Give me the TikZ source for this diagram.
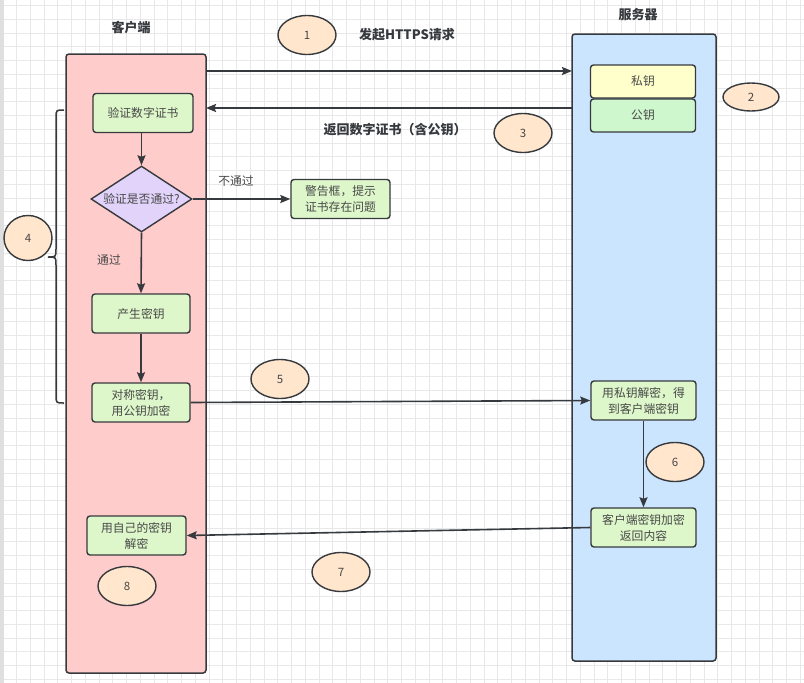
\documentclass[tikz,border=0pt]{standalone}
\usepackage{fontspec}
\setmainfont{Noto Sans CJK SC}
\usetikzlibrary{arrows.meta,shapes.geometric}
\definecolor{strokec}{HTML}{36393D}
\definecolor{pinkc}{HTML}{FFCCCC}
\definecolor{bluec}{HTML}{CCE5FF}
\definecolor{boxg}{HTML}{DDF7CA}
\definecolor{yellc}{HTML}{FFFFCC}
\definecolor{pubg}{HTML}{CFF7CD}
\definecolor{lavc}{HTML}{E1D3FA}
\definecolor{peach}{HTML}{FFE6CC}
\definecolor{gridc}{HTML}{E8E8E8}
\definecolor{txtc}{HTML}{484848}
\tikzset{
  lane/.style={draw=strokec,line width=1.5pt,rounded corners=3pt},
  stepbox/.style={draw=strokec,line width=1.4pt,rounded corners=3pt,fill=boxg,
    minimum height=39pt,inner sep=2pt,align=center,text=txtc,font=\fontsize{11.8pt}{16pt}\selectfont},
  keybox/.style={draw=strokec,line width=1.4pt,rounded corners=3pt,
    minimum width=105pt,minimum height=33pt,inner sep=0pt,text=txtc,font=\fontsize{11.8pt}{14pt}\selectfont},
  num/.style={ellipse,draw=strokec,line width=1.4pt,fill=peach,minimum width=58pt,minimum height=39pt,
    inner sep=0pt,text=txtc,font=\fontsize{11.5pt}{13pt}\selectfont},
  title/.style={font=\fontsize{13pt}{15pt}\selectfont\bfseries,text=strokec},
  lbl/.style={font=\fontsize{11.8pt}{13pt}\selectfont,text=txtc},
  conn/.style={draw=strokec,line width=1.6pt,-{Stealth[length=10pt,width=8pt,inset=1.5pt]}},
}
\begin{document}
\begin{tikzpicture}[x=1pt,y=-1pt]
\useasboundingbox (0,0) rectangle (804,683);
\fill[white] (0,0) rectangle (804,683);
% grid
\foreach \i in {0,...,58} {\draw[gridc,line width=0.7pt] ({2.7+13.75*\i},0) -- ({2.7+13.75*\i},683);}
\foreach \j in {0,...,49} {\draw[gridc,line width=0.7pt] (0,{5.45+13.75*\j}) -- (804,{5.45+13.75*\j});}
\fill[gray!25] (0,0) rectangle (4,683);
% lanes
\draw[lane,fill=pinkc] (66,54) rectangle (206,673);
\draw[lane,fill=bluec] (572,34) rectangle (716,661);
\node[title] (tclient) at (131,28) {客户端};
\node[title] (tserver) at (638,15) {服务器};
% server keys
\node[keybox,fill=yellc] (priv) at (643,81.5) {私钥};
\node[keybox,fill=pubg] (pub) at (643,115.5) {公钥};
% client flow
\node[stepbox,minimum width=100pt] (verify) at (143,113) {验证数字证书};
\node[diamond,draw=strokec,line width=1.4pt,fill=lavc,minimum width=101pt,minimum height=66pt,
  inner sep=0pt,aspect=1.5,text=txtc,font=\fontsize{11.8pt}{13pt}\selectfont] (check) at (141.5,199) {验证是否通过?};
\node[stepbox,minimum width=99pt] (warn) at (340.5,199) {警告框，提示\\证书存在问题};
\node[stepbox,minimum width=98pt] (gen) at (141,313.5) {产生密钥};
\node[stepbox,minimum width=98pt] (sym) at (141,402.5) {对称密钥，\\用公钥加密};
\node[stepbox,minimum width=99pt] (own) at (136.5,535.5) {用自己的密钥\\解密};
% server flow
\node[stepbox,minimum width=105pt] (dec) at (643.5,400.5) {用私钥解密，得\\到客户端密钥};
\node[stepbox,minimum width=105pt] (enc) at (643.5,527.5) {客户端密钥加密\\返回内容};
% labels
\node[title] (l1) at (407,35) {发起HTTPS请求};
\node[title] (l2) at (395,130) {返回数字证书（含公钥）};
\node[lbl] (lno) at (236,181) {不通过};
\node[lbl] (lyes) at (109,260) {通过};
% numbers
\node[num] (n1) at (307,35) {1};
\node[num,minimum width=56pt,minimum height=28pt] (n2) at (751,97) {2};
\node[num] (n3) at (523,133) {3};
\node[num,minimum width=48pt,minimum height=45pt] (n4) at (28,238) {4};
\node[num] (n5) at (280,379) {5};
\node[num] (n6) at (675,462) {6};
\node[num] (n7) at (341,572) {7};
\node[num] (n8) at (127,586) {8};
% connectors
\coordinate (c1a) at (206,71);
\coordinate (c1b) at (572,71);
\draw[conn] (c1a) -- (c1b);
\coordinate (c2a) at (572,108);
\coordinate (c2b) at (206,108);
\draw[conn] (c2a) -- (c2b);
\draw[conn] (verify.south -| check.north) -- (check.north);
\draw[conn] (check.east) -- (warn.west);
\draw[conn] (check.south) -- (gen.north);
\draw[conn] (gen.south) -- (sym.north);
\draw[conn] (sym.east) -- (dec.west);
\draw[conn] (dec.south) -- (enc.north);
\draw[conn] (enc.west) -- (own.east);
% brace
\coordinate (b1) at (64,110);
\coordinate (b2) at (48,257);
\coordinate (b3) at (64,403);
\draw[strokec,line width=1.5pt] (b1) .. controls (56,110) .. (56,118) -- (56,249) .. controls (56,257) .. (b2)
  .. controls (56,257) .. (56,265) -- (56,395) .. controls (56,403) .. (b3);
\end{tikzpicture}
\end{document}
